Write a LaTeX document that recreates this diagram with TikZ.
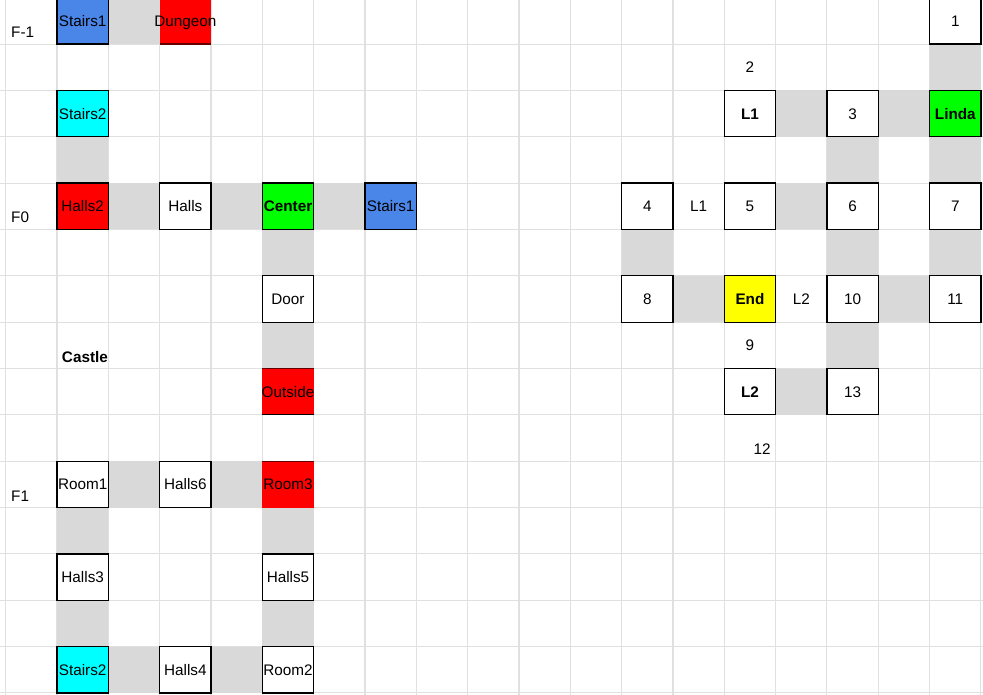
\documentclass[tikz,border=0pt]{standalone}
\usepackage{fontspec}
\setmainfont{Liberation Sans}
\usetikzlibrary{calc}

\definecolor{stairblue}{HTML}{4A86E8}
\definecolor{stairaqua}{HTML}{00FFFF}
\definecolor{roomred}{HTML}{FF0000}
\definecolor{roomgreen}{HTML}{00FF00}
\definecolor{roomyellow}{HTML}{FFFF00}
\definecolor{passgray}{HTML}{D9D9D9}
\definecolor{gridgray}{HTML}{E0E0E0}

\begin{document}
\begin{tikzpicture}[x=1.0266cm, y=-0.927cm,
	every node/.style={font=\fontsize{8.7}{10}\selectfont, inner sep=0pt, text height=6.2pt, text depth=0pt},
	room/.style={draw=black, line width=0.7pt, minimum width=1.0266cm, minimum height=0.927cm},
	bold/.style={font=\fontsize{8.7}{10}\selectfont\bfseries},
	pass/.style={fill=passgray},
	tag/.style={anchor=base west},
	tagr/.style={anchor=base east}]
	\useasboundingbox (-0.111,0.0496) rectangle (19.04,15.023);
	\foreach \c in {0,...,19} \draw[gridgray, line width=0.6pt] (\c,-0.2) -- (\c,15.2);
	\foreach \r in {1,...,15} \draw[gridgray, line width=0.6pt] (-0.2,\r) -- (19.2,\r);
	\foreach \c/\r in {2/0, 1/3, 2/4, 4/4, 6/4, 5/5, 5/7, 2/10, 4/10, 1/11, 5/11, 1/13, 5/13, 2/14, 4/14,
		18/1, 15/2, 17/2, 16/3, 18/3, 15/4, 12/5, 16/5, 18/5, 13/6, 17/6, 16/7, 15/8}
		\fill[pass] (\c,\r) rectangle ++(1,1);
	\foreach \c/\r in {3/0, 5/8, 5/10} \fill[roomred] (\c,\r) rectangle ++(1,1);
	\draw[red!40!black, line width=0.7pt] (3,1) -- (4,1);
	\draw[red!40!black, line width=0.7pt] (5,8) -- (6,8);
	\draw[black, line width=0.7pt] (5,9) -- (6,9);
	\draw[red!40!black, line width=0.7pt] (5,10) -- (6,10);

	\node[tag] (floorA) at (0.1,0.86) {F-1};
	\node[tag] (floorB) at (0.1,4.86) {F0};
	\node[tag] (floorC) at (0.1,10.86) {F1};
	\node[tag, bold] (castle) at (1.09,7.86) {Castle};

	\node[room, fill=stairblue] (stairsA) at (1.5,0.5) {Stairs1};
	\node (dungeon) at (3.5,0.5) {Dungeon};
	\node[room, fill=stairaqua] (stairsB) at (1.5,2.5) {Stairs2};
	\node[room, fill=roomred] (hallsB) at (1.5,4.5) {Halls2};
	\node[room, fill=white] (halls) at (3.5,4.5) {Halls};
	\node[room, fill=roomgreen, bold] (center) at (5.5,4.5) {Center};
	\node[room, fill=stairblue] (stairsC) at (7.5,4.5) {Stairs1};
	\node[room, fill=white] (door) at (5.5,6.5) {Door};
	\node (outside) at (5.5,8.5) {Outside};

	\node[room, fill=white] (roomA) at (1.5,10.5) {Room1};
	\node[room, fill=white] (hallsF) at (3.5,10.5) {Halls6};
	\node (roomC) at (5.5,10.5) {Room3};
	\node[room, fill=white] (hallsC) at (1.5,12.5) {Halls3};
	\node[room, fill=white] (hallsE) at (5.5,12.5) {Halls5};
	\node[room, fill=stairaqua] (stairsD) at (1.5,14.5) {Stairs2};
	\node[room, fill=white] (hallsD) at (3.5,14.5) {Halls4};
	\node[room, fill=white] (roomB) at (5.5,14.5) {Room2};

	\node[room, fill=white] (nA) at (18.5,0.5) {1};
	\node (nB) at (14.5,1.5) {2};
	\node[room, fill=white, bold] (lockA) at (14.5,2.5) {L1};
	\node[room, fill=white] (nC) at (16.5,2.5) {3};
	\node[room, fill=roomgreen, bold] (linda) at (18.5,2.5) {Linda};
	\node[room, fill=white] (nD) at (12.5,4.5) {4};
	\node (keyA) at (13.5,4.5) {L1};
	\node[room, fill=white] (nE) at (14.5,4.5) {5};
	\node[room, fill=white] (nF) at (16.5,4.5) {6};
	\node[room, fill=white] (nG) at (18.5,4.5) {7};
	\node[room, fill=white] (nH) at (12.5,6.5) {8};
	\node[room, fill=roomyellow, bold] (goal) at (14.5,6.5) {End};
	\node (keyB) at (15.5,6.5) {L2};
	\node[room, fill=white] (nJ) at (16.5,6.5) {10};
	\node[room, fill=white] (nK) at (18.5,6.5) {11};
	\node (nI) at (14.5,7.5) {9};
	\node[room, fill=white, bold] (lockB) at (14.5,8.5) {L2};
	\node[room, fill=white] (nM) at (16.5,8.5) {13};
	\node[tagr] (nL) at (14.91,9.86) {12};
\end{tikzpicture}
\end{document}
